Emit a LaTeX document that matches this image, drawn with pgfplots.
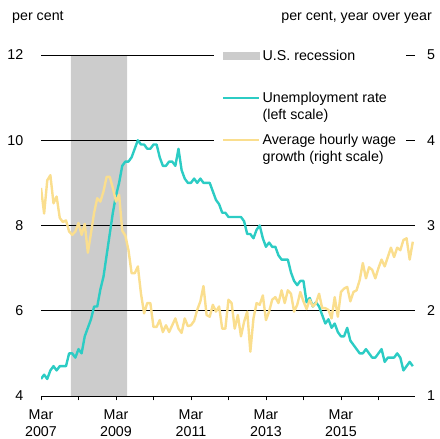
\documentclass[border=0pt]{standalone}
\usepackage{pgfplots}
\pgfplotsset{compat=1.18}
\usepackage{fontspec}
\setmainfont{Liberation Sans}
\definecolor{unemp}{RGB}{44,204,196}
\definecolor{wage}{RGB}{250,222,142}
\definecolor{recess}{RGB}{204,204,204}
\begin{document}
\fontsize{14.3}{17}\selectfont
\begin{tikzpicture}
\node[anchor=base west, inner sep=0pt] at (12bp,418bp) {per cent};
\node[anchor=base east, inner sep=0pt] at (432bp,418bp) {per cent, year over year};
\begin{axis}[
  at={(41bp,43bp)}, anchor=south west,
  width=374bp, height=341bp, scale only axis,
  xmin=0, xmax=119.7, ymin=4, ymax=12,
  set layers,
  axis x line*=bottom, axis y line*=left,
  y axis line style={draw=none},
  x axis line style={black, line width=0.7bp, -},
  ytick={4,6,8,10,12},
  ymajorgrids, major grid style={black, line width=0.7bp},
  ytick style={draw=none},
  xtick={0,24,48,72,96},
  xticklabels={{Mar\\2007},{Mar\\2009},{Mar\\2011},{Mar\\2013},{Mar\\2015}},
  minor xtick={12,36,60,84,108},
  xtick style={black, line width=0.7bp},
  minor x tick style={black, line width=0.7bp},
  tick align=outside, major tick length=4.5bp, minor tick length=4.5bp,
  /pgf/number format/assume math mode=true,
  xticklabel style={align=center, inner sep=0pt, yshift=-9bp},
  yticklabel style={inner sep=0pt, xshift=-13bp, anchor=east},
]
\addplot[draw=none, fill=recess, on layer=axis background, forget plot]
  coordinates {(9.6,4) (27.6,4) (27.6,12) (9.6,12) (9.6,4)};
\addplot[unemp, line width=2.4bp, line join=round] coordinates {
(0,4.4) (1,4.5) (2,4.4) (3,4.6) (4,4.7) (5,4.6) (6,4.7) (7,4.7) (8,4.7) (9,5.0)
(10,5.0) (11,4.9) (12,5.1) (13,5.0) (14,5.4) (15,5.6) (16,5.8) (17,6.1) (18,6.1) (19,6.5) (20,6.8) (21,7.3)
(22,7.8) (23,8.3) (24,8.7) (25,9.0) (26,9.4) (27,9.5) (28,9.5) (29,9.6) (30,9.8) (31,10.0) (32,9.9) (33,9.9)
(34,9.8) (35,9.8) (36,9.9) (37,9.9) (38,9.6) (39,9.4) (40,9.4) (41,9.5) (42,9.5) (43,9.4) (44,9.8) (45,9.3)
(46,9.1) (47,9.0) (48,9.0) (49,9.1) (50,9.0) (51,9.1) (52,9.0) (53,9.0) (54,9.0) (55,8.8) (56,8.6) (57,8.5)
(58,8.3) (59,8.3) (60,8.2) (61,8.2) (62,8.2) (63,8.2) (64,8.2) (65,8.1) (66,7.8) (67,7.8) (68,7.7) (69,7.9)
(70,8.0) (71,7.7) (72,7.5) (73,7.6) (74,7.5) (75,7.5) (76,7.3) (77,7.2) (78,7.2) (79,7.2) (80,6.9) (81,6.7)
(82,6.6) (83,6.7) (84,6.7) (85,6.2) (86,6.3) (87,6.1) (88,6.2) (89,6.1) (90,5.9) (91,5.7) (92,5.8) (93,5.6)
(94,5.7) (95,5.5) (96,5.4) (97,5.4) (98,5.6) (99,5.3) (100,5.2) (101,5.1) (102,5.0) (103,5.0) (104,5.1) (105,5.0)
(106,4.9) (107,4.9) (108,5.0) (109,5.1) (110,4.8) (111,4.9) (112,4.9) (113,4.9) (114,5.0) (115,4.9) (116,4.6) (117,4.7)
(118,4.8) (119,4.7)
};
\end{axis}
\begin{axis}[
  at={(41bp,43bp)}, anchor=south west,
  width=374bp, height=341bp, scale only axis,
  xmin=0, xmax=119.7, ymin=1, ymax=5,
  axis y line*=right, axis x line=none,
  y axis line style={draw=none}, ytick style={draw=none},
  ytick={1,2,3,4,5},
  /pgf/number format/assume math mode=true,
  yticklabel style={inner sep=0pt, xshift=12bp, anchor=west},
  legend cell align=left,
  legend image code/.code={\draw[#1] (0bp,21.5bp) -- (36bp,21.5bp);},
  legend style={at={(0.4626,1.032)}, anchor=north west, draw=none, fill=white,
    inner xsep=8bp, inner ysep=3bp, row sep=5bp, column sep=0bp,
    cells={anchor=base west},
    nodes={align=left, inner sep=2bp, text height=28bp, text depth=5bp}},
]
\addlegendimage{legend image code/.code={\fill[recess] (0bp,18bp) rectangle (36bp,25bp);}}
\addlegendentry{U.S. recession\\\mbox{}}
\addlegendimage{unemp, line width=2.4bp}
\addlegendentry{Unemployment rate\\(left scale)}
\addplot[wage, line width=2.4bp, line join=round] coordinates {
(0,3.44) (1,3.14) (2,3.53) (3,3.59) (4,3.26) (5,3.34) (6,3.09) (7,3.04) (8,3.06) (9,2.93)
(10,2.89) (11,2.93) (12,3.03) (13,2.89) (14,3.02) (15,2.68) (16,2.91) (17,3.15) (18,3.32) (19,3.28)
(20,3.40) (21,3.57) (22,3.57) (23,3.44) (24,3.28) (25,3.36) (26,2.94) (27,2.88) (28,2.71) (29,2.44)
(30,2.44) (31,2.52) (32,2.20) (33,1.97) (34,2.09) (35,2.09) (36,1.81) (37,1.81) (38,1.89) (39,1.75)
(40,1.83) (41,1.75) (42,1.83) (43,1.91) (44,1.79) (45,1.74) (46,1.91) (47,1.82) (48,1.83) (49,1.88)
(50,2.01) (51,2.11) (52,2.29) (53,1.95) (54,1.93) (55,2.07) (56,1.99) (57,2.05) (58,1.79) (59,1.79)
(60,2.13) (61,2.09) (62,1.79) (63,1.95) (64,1.70) (65,1.87) (66,1.99) (67,1.52) (68,1.91) (69,2.09)
(70,2.07) (71,2.18) (72,1.89) (73,1.99) (74,2.13) (75,2.16) (76,2.09) (77,2.24) (78,2.09) (79,2.24)
(80,2.20) (81,1.99) (82,2.07) (83,2.22) (84,2.11) (85,2.02) (86,2.13) (87,2.05) (88,2.09) (89,2.20)
(90,2.03) (91,2.03) (92,2.01) (93,1.91) (94,2.16) (95,1.93) (96,2.22) (97,2.26) (98,2.28) (99,2.11)
(100,2.22) (101,2.24) (102,2.36) (103,2.56) (104,2.38) (105,2.51) (106,2.48) (107,2.38) (108,2.50) (109,2.60)
(110,2.52) (111,2.63) (112,2.74) (113,2.63) (114,2.74) (115,2.71) (116,2.83) (117,2.85) (118,2.60) (119,2.81)
};
\addlegendentry{Average hourly wage\\growth (right scale)}
\end{axis}
\pgfresetboundingbox
\path[use as bounding box] (0,0) rectangle (440bp,439bp);
\end{tikzpicture}
\end{document}
